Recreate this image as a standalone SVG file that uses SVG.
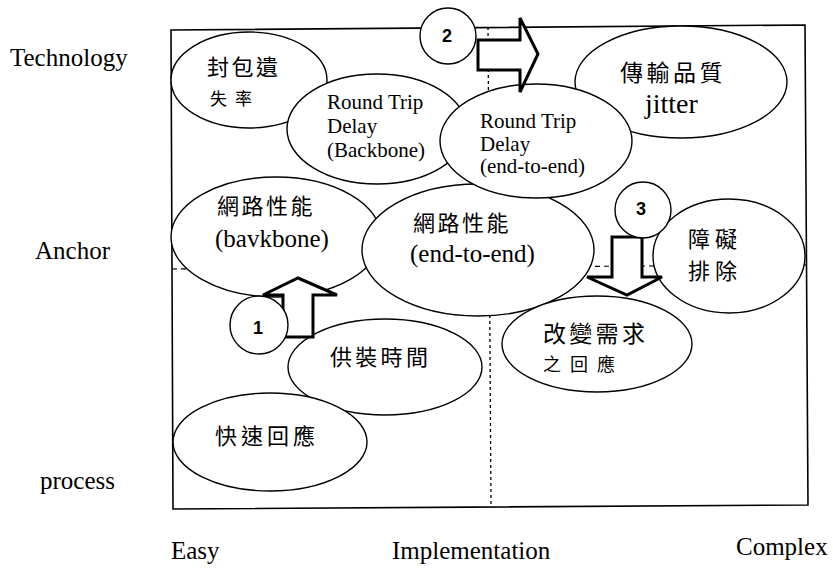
<svg xmlns="http://www.w3.org/2000/svg" width="833" height="570" viewBox="0 0 833 570">
  <defs>
    <style>
      .frame { fill: none; stroke: #000; stroke-width: 1.6; }
      .dashv { fill: none; stroke: #000; stroke-width: 1.3; stroke-dasharray: 3 3; }
      .dashh { fill: none; stroke: #000; stroke-width: 1.2; stroke-dasharray: 5 4; }
      .node ellipse { fill: #fff; stroke: #000; stroke-width: 1.4; }
      .badge circle { fill: #fff; stroke: #000; stroke-width: 1.4; }
      .badge text { font-family: "Liberation Sans", Arial, sans-serif; font-weight: bold; font-size: 18px; text-anchor: middle; }
      .arrow { fill: #fff; stroke: #000; stroke-width: 3; stroke-linejoin: miter; }
      .lat { font-family: "Liberation Serif", "Times New Roman", serif; fill: #000; }
      .cjk { font-family: "Noto Sans CJK TC", "Noto Sans CJK SC", sans-serif; fill: #000; }
      .axis { font-family: "Liberation Serif", "Times New Roman", serif; font-size: 25px; fill: #000; }
    </style>
  </defs>

  <!-- axis labels -->
  <g id="axis-labels">
    <text class="axis" x="10" y="66" font-size="24.5">Technology</text>
    <text class="axis" x="35" y="259">Anchor</text>
    <text class="axis" x="40" y="489">process</text>
    <text class="axis" x="171" y="559">Easy</text>
    <text class="axis" x="392" y="559">Implementation</text>
    <text class="axis" x="736" y="555" font-size="24">Complex</text>
  </g>

  <!-- chart frame and quadrant dividers -->
  <g id="frame">
    <path class="frame" d="M171,30 L805,25 L808,505 L173,509 Z"/>
    <line class="dashv" x1="488" y1="27" x2="491" y2="507"/>
    <line class="dashh" x1="172" y1="269" x2="806" y2="265"/>
  </g>

  <g id="packet-loss" class="node">
    <ellipse cx="249" cy="80" rx="78" ry="48"/>
    <text class="cjk" x="207" y="75" font-size="22" letter-spacing="2.5">封包遺</text>
    <text class="cjk" x="210" y="105" font-size="17" letter-spacing="8">失率</text>
  </g>

  <g id="rtd-backbone" class="node">
    <ellipse cx="377" cy="129" rx="90" ry="55"/>
    <text class="lat" font-size="21" x="327" y="109">Round Trip</text>
    <text class="lat" font-size="21" x="327" y="133">Delay</text>
    <text class="lat" font-size="21" x="327" y="157">(Backbone)</text>
  </g>

  <g id="jitter" class="node">
    <ellipse cx="681" cy="82" rx="106" ry="56"/>
    <text class="cjk" x="620" y="81" font-size="23" letter-spacing="3.5">傳輸品質</text>
    <text class="lat" x="645" y="113" font-size="28">jitter</text>
  </g>

  <g id="perf-backbone" class="node">
    <ellipse cx="276" cy="237" rx="105" ry="60"/>
    <text class="cjk" x="217" y="214" font-size="22" letter-spacing="2.5">網路性能</text>
    <text class="lat" x="215" y="247" font-size="25">(bavkbone)</text>
  </g>

  <g id="perf-e2e" class="node">
    <ellipse cx="478" cy="250" rx="116" ry="66"/>
    <text class="cjk" x="413" y="231" font-size="22" letter-spacing="2.5">網路性能</text>
    <text class="lat" x="410" y="262" font-size="25">(end-to-end)</text>
  </g>

  <g id="rtd-e2e" class="node">
    <ellipse cx="536" cy="141" rx="96" ry="57"/>
    <text class="lat" font-size="21" x="480" y="128">Round Trip</text>
    <text class="lat" font-size="21" x="480" y="151">Delay</text>
    <text class="lat" font-size="21" x="480" y="173">(end-to-end)</text>
  </g>

  <g id="troubleshoot" class="node">
    <ellipse cx="729" cy="256" rx="76" ry="57"/>
    <text class="cjk" x="688" y="247" font-size="22" letter-spacing="5">障礙</text>
    <text class="cjk" x="688" y="279" font-size="22" letter-spacing="5">排除</text>
  </g>

  <g id="change-response" class="node">
    <ellipse cx="597" cy="344" rx="95" ry="48"/>
    <text class="cjk" x="543" y="342" font-size="23" letter-spacing="3.3">改變需求</text>
    <text class="cjk" x="543" y="371" font-size="18" letter-spacing="9">之回應</text>
  </g>

  <g id="provision-time" class="node">
    <ellipse cx="385" cy="367" rx="97" ry="48"/>
    <text class="cjk" x="330" y="365" font-size="22" letter-spacing="3.3">供裝時間</text>
  </g>

  <g id="quick-response" class="node">
    <ellipse cx="270" cy="442" rx="97" ry="49"/>
    <text class="cjk" x="215" y="444" font-size="22" letter-spacing="4">快速回應</text>
  </g>

  <!-- block arrows -->
  <g id="connectors">
    <polygon class="arrow" points="283,337 283,295 263,295 298,278 337,295 313,295 313,337"/>
    <polygon class="arrow" points="478,40 520,40 520,18 538,54 520,92 520,70 478,70"/>
    <polygon class="arrow" points="612,237 642,237 642,277 662,277 627,295 587,277 612,277"/>
  </g>

  <!-- numbered markers -->
  <g id="badge-1" class="badge">
    <circle cx="259" cy="325" r="29"/>
    <text x="258" y="334">1</text>
  </g>
  <g id="badge-2" class="badge">
    <circle cx="448" cy="36" r="28"/>
    <text x="447" y="42">2</text>
  </g>
  <g id="badge-3" class="badge">
    <circle cx="643" cy="210" r="28"/>
    <text x="641" y="215">3</text>
  </g>
</svg>
